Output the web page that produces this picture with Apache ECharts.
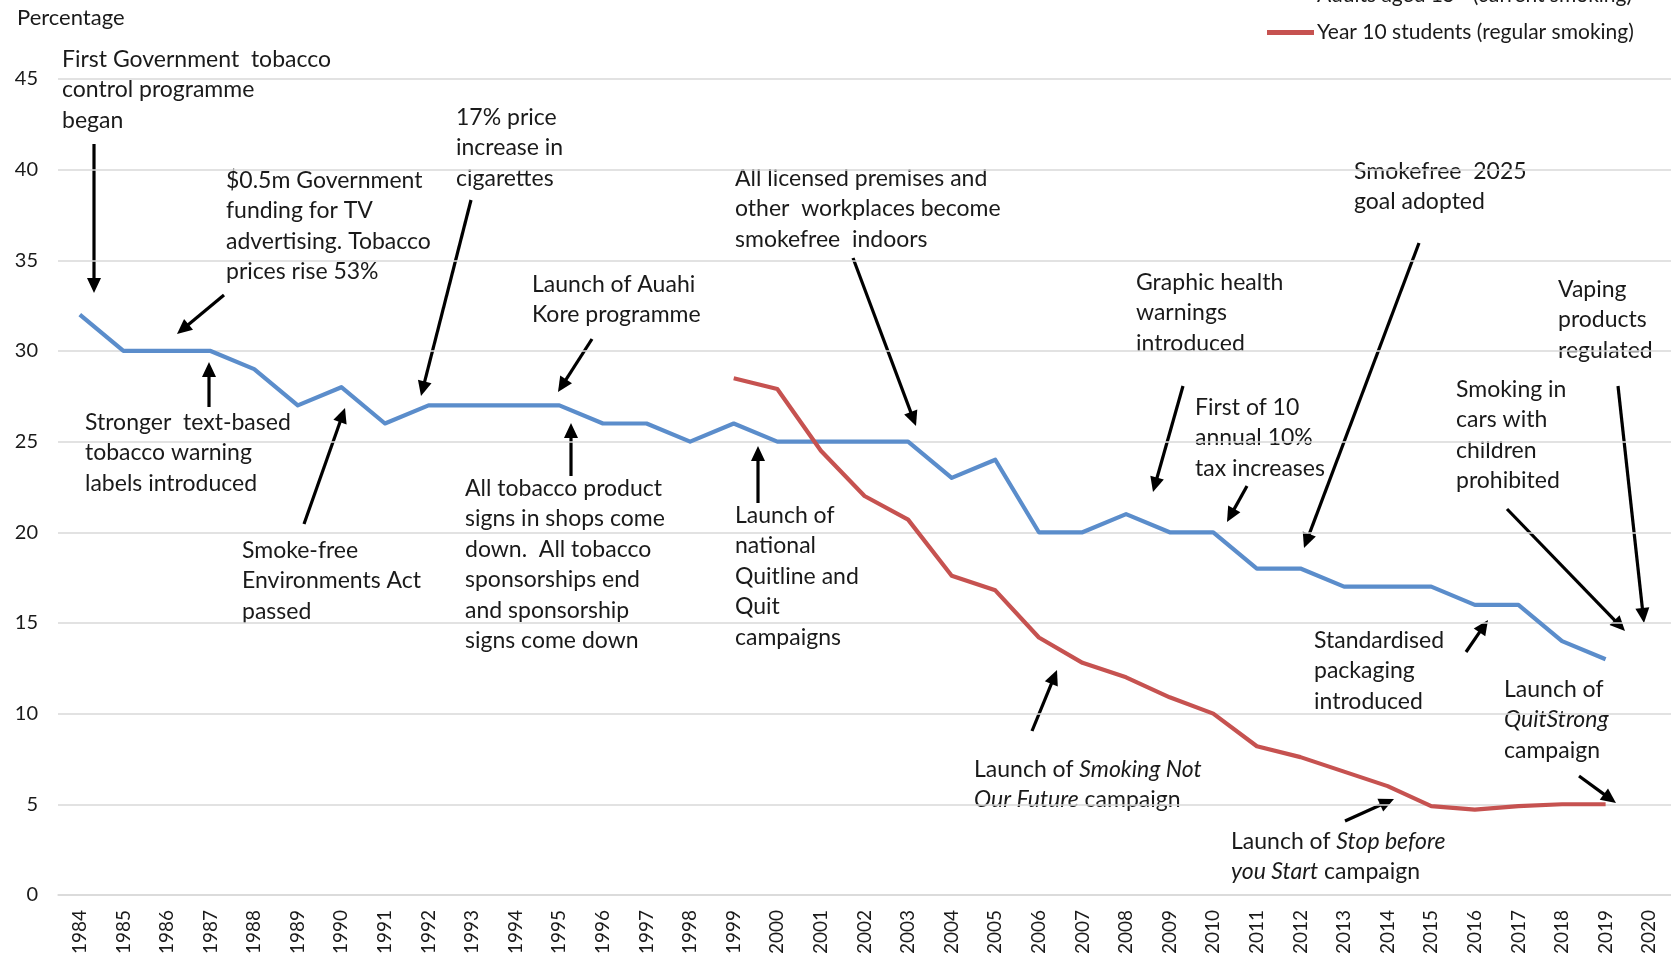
<!DOCTYPE html>
<html>
<head>
<meta charset="utf-8">
<title>Smoking prevalence and tobacco control milestones</title>
<script src="https://cdn.jsdelivr.net/npm/echarts@6/dist/echarts.min.js"></script>
<style>
  html, body { margin: 0; padding: 0; background: #fff; }
  #chart { width: 1671px; height: 957px; }
</style>
</head>
<body>
<div id="chart"></div>
<script>
const years = ["1984", "1985", "1986", "1987", "1988", "1989", "1990", "1991", "1992", "1993",
  "1994", "1995", "1996", "1997", "1998", "1999", "2000", "2001", "2002", "2003",
  "2004", "2005", "2006", "2007", "2008", "2009", "2010", "2011", "2012", "2013",
  "2014", "2015", "2016", "2017", "2018", "2019", "2020"];

const adults = [32, 30, 30, 30, 29, 27, 28, 26, 27, 27,
  27, 27, 26, 26, 25, 26, 25, 25, 25, 25,
  23, 24, 20, 20, 21, 20, 20, 18, 18, 17,
  17, 17, 16, 16, 14, 13, null];

const year10 = [null, null, null, null, null, null, null, null, null, null,
  null, null, null, null, null, 28.5, 27.9, 24.5, 22, 20.7,
  17.6, 16.8, 14.2, 12.8, 12, 10.9, 10, 8.2, 7.6, 6.8,
  6, 4.9, 4.7, 4.9, 5, 5, null];

const seriesNames = ["Adults aged 15+ (current smoking)", "Year 10 students (regular smoking)"];

// milestone notes: text block (top-left, px) and arrow (from -> to, px)
const notes = [
  { x: 62, y: 44, text: "First Government  tobacco\ncontrol programme\nbegan", arrow: [94, 144, 94, 293] },
  { x: 226, y: 165, text: "$0.5m Government\nfunding for TV\nadvertising. Tobacco\nprices rise 53%", arrow: [224, 295, 177, 334] },
  { x: 456, y: 102, text: "17% price\nincrease in\ncigarettes", arrow: [471, 200, 421, 396] },
  { x: 532, y: 269, text: "Launch of Auahi\nKore programme", arrow: [592, 339, 558, 392] },
  { x: 735, y: 163, text: "All licensed premises and\nother  workplaces become\nsmokefree  indoors", arrow: [853, 258, 916, 426] },
  { x: 1354, y: 156, text: "Smokefree  2025\ngoal adopted", arrow: [1419, 243, 1304, 548] },
  { x: 1136, y: 267, text: "Graphic health\nwarnings\nintroduced", arrow: [1183, 386, 1153, 492] },
  { x: 1195, y: 392, text: "First of 10\nannual 10%\ntax increases", arrow: [1247, 486, 1227, 522] },
  { x: 1558, y: 274, text: "Vaping\nproducts\nregulated", arrow: [1618, 386, 1644, 623] },
  { x: 1456, y: 374, text: "Smoking in\ncars with\nchildren\nprohibited", arrow: [1507, 509, 1625, 631] },
  { x: 85, y: 407, text: "Stronger  text-based\ntobacco warning\nlabels introduced", arrow: [209, 407, 209, 362] },
  { x: 242, y: 535, text: "Smoke-free\nEnvironments Act\npassed", arrow: [304, 524, 345, 408] },
  { x: 465, y: 473, text: "All tobacco product\nsigns in shops come\ndown.  All tobacco\nsponsorships end\nand sponsorship\nsigns come down", arrow: [571, 476, 571, 423] },
  { x: 735, y: 500, text: "Launch of\nnational\nQuitline and\nQuit\ncampaigns", arrow: [758, 503, 758, 446] },
  { x: 1314, y: 625, text: "Standardised\npackaging\nintroduced", arrow: [1466, 652, 1488, 620] },
  { x: 1504, y: 674, text: "Launch of\n{i|QuitStrong}\ncampaign", arrow: [1579, 776, 1616, 803] },
  { x: 974, y: 754, text: "Launch of {i|Smoking Not}\n{i|Our Future} campaign", arrow: [1032, 731, 1057, 670] },
  { x: 1231, y: 826, text: "Launch of {i|Stop before}\n{i|you Start} campaign", arrow: [1345, 821, 1394, 799] }
];

const FONT = "Lato";
const NOTE_SIZE = 23;
const NOTE_LH = 30.5;
const INK = "#1a1a1a";

function arrowShapes(a) {
  const [x1, y1, x2, y2] = a;
  const dx = x2 - x1, dy = y2 - y1;
  const len = Math.sqrt(dx * dx + dy * dy);
  const ux = dx / len, uy = dy / len;
  const headL = 15, headW = 7;
  const bx = x2 - ux * headL, by = y2 - uy * headL;
  const nx = -uy, ny = ux;
  return [
    {
      type: "line",
      silent: true,
      shape: { x1: x1, y1: y1, x2: bx + ux * 2, y2: by + uy * 2 },
      style: { stroke: "#000", lineWidth: 3.2 }
    },
    {
      type: "polygon",
      silent: true,
      shape: { points: [[x2, y2], [bx + nx * headW, by + ny * headW], [bx - nx * headW, by - ny * headW]] },
      style: { fill: "#000" }
    }
  ];
}

const graphics = [];
notes.forEach(function (n) {
  graphics.push({
    type: "text",
    silent: true,
    x: n.x,
    y: n.y,
    style: {
      text: n.text,
      font: NOTE_SIZE + "px " + FONT,
      fill: INK,
      lineHeight: NOTE_LH,
      rich: {
        i: { fontStyle: "italic", fontSize: NOTE_SIZE, fontFamily: FONT, fill: INK, lineHeight: NOTE_LH }
      }
    }
  });
  arrowShapes(n.arrow).forEach(function (g) { graphics.push(g); });
});

const chart = echarts.init(document.getElementById("chart"));

const option = {
  backgroundColor: "#fff",
  animation: false,
  textStyle: { fontFamily: FONT },
  title: {
    text: "Percentage",
    left: 12,
    top: 2,
    textStyle: { fontFamily: FONT, fontSize: 22, fontWeight: "normal", color: INK }
  },
  legend: {
    orient: "vertical",
    left: 1262,
    top: -20,
    itemGap: 16,
    itemWidth: 47,
    itemHeight: 5,
    icon: "rect",
    textStyle: { fontFamily: FONT, fontSize: 21, color: INK, padding: [0, 0, 0, -2] },
    data: seriesNames
  },
  grid: {
    left: 58,
    right: 0,
    top: 79,
    bottom: 61,
    containLabel: false
  },
  xAxis: {
    type: "category",
    data: years,
    boundaryGap: true,
    axisLine: { show: true, lineStyle: { color: "#d9d9d9", width: 1.5 } },
    axisTick: { show: false },
    axisLabel: {
      interval: 0,
      rotate: 90,
      margin: 15,
      fontFamily: FONT,
      fontSize: 19,
      color: INK
    }
  },
  yAxis: {
    type: "value",
    min: 0,
    max: 45,
    interval: 5,
    axisLine: { show: false },
    axisTick: { show: false },
    splitLine: { lineStyle: { color: "#d9d9d9", width: 1.5 } },
    axisLabel: {
      margin: 20,
      fontFamily: FONT,
      fontSize: 20,
      color: INK
    }
  },
  series: [
    {
      name: seriesNames[0],
      type: "line",
      data: adults,
      showSymbol: false,
      color: "#5b8dcb",
      lineStyle: { width: 4.2, color: "#5b8dcb", join: "round" }
    },
    {
      name: seriesNames[1],
      type: "line",
      data: year10,
      showSymbol: false,
      color: "#c65250",
      lineStyle: { width: 4.2, color: "#c65250", join: "round" }
    }
  ],
  graphic: graphics
};

chart.setOption(option);
</script>
</body>
</html>
